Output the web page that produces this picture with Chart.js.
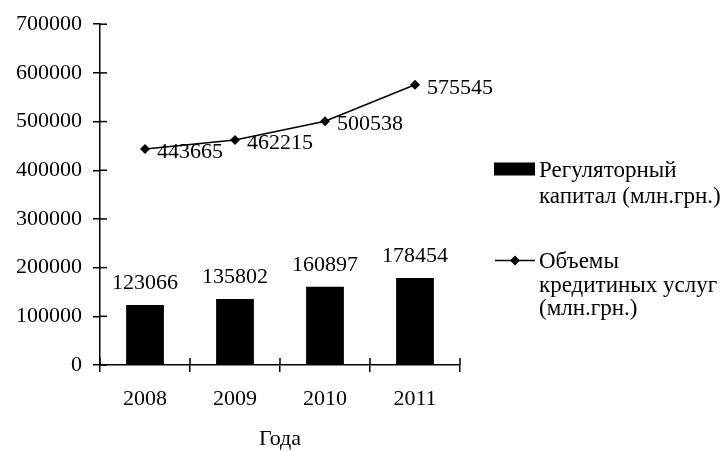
<!DOCTYPE html>
<html>
<head>
<meta charset="utf-8">
<script src="https://cdn.jsdelivr.net/npm/chart.js@4.4.1/dist/chart.umd.min.js"></script>
<style>
html,body{margin:0;padding:0;background:#fff;}
#wrap{width:723px;height:452px;position:relative;}
</style>
</head>
<body>
<div id="wrap"><canvas id="c" width="723" height="452"></canvas></div>
<script>
const years = ['2008', '2009', '2010', '2011'];
const capital = [123066, 135802, 160897, 178454];
const credit = [443665, 462215, 500538, 575545];
const capitalName = ['Регуляторный', 'капитал (млн.грн.)'];
const creditName = ['Объемы', 'кредитиных услуг', '(млн.грн.)'];
const xTitle = 'Года';
const yTicks = [0, 100000, 200000, 300000, 400000, 500000, 600000, 700000];

const FONT = '"Liberation Serif", "Times New Roman", serif';
const FS = 22;
const LFS = 23;

const crossTicks = {
  id: 'crossTicks',
  afterDraw(chart) {
    const ctx = chart.ctx;
    const ys = chart.scales.y, xs = chart.scales.x;
    ctx.save();
    ctx.strokeStyle = '#000';
    ctx.lineWidth = 1.5;
    ys.ticks.forEach((t, i) => {
      const py = ys.getPixelForTick(i);
      ctx.beginPath(); ctx.moveTo(ys.right, py); ctx.lineTo(ys.right + 7, py); ctx.stroke();
    });
    const n = xs.ticks.length;
    const step = n > 1 ? xs.getPixelForTick(1) - xs.getPixelForTick(0) : xs.width;
    for (let i = 0; i <= n; i++) {
      const px = xs.getPixelForTick(0) - step / 2 + i * step;
      ctx.beginPath(); ctx.moveTo(px, xs.top); ctx.lineTo(px, xs.top - 7); ctx.stroke();
    }
    ctx.restore();
  }
};

const valueLabels = {
  id: 'valueLabels',
  afterDatasetsDraw(chart) {
    const ctx = chart.ctx;
    ctx.save();
    ctx.fillStyle = '#000';
    ctx.font = FS + 'px ' + FONT;
    const barMeta = chart.getDatasetMeta(0);
    ctx.textAlign = 'center';
    ctx.textBaseline = 'alphabetic';
    barMeta.data.forEach((el, i) => {
      ctx.fillText(String(capital[i]), el.x, el.y - 16);
    });
    const lineMeta = chart.getDatasetMeta(1);
    ctx.textAlign = 'left';
    ctx.textBaseline = 'middle';
    lineMeta.data.forEach((el, i) => {
      ctx.fillText(String(credit[i]), el.x + 12, el.y + 3);
    });
    ctx.restore();
  }
};

const sideLegend = {
  id: 'sideLegend',
  afterDraw(chart) {
    const ctx = chart.ctx;
    const x0 = chart.chartArea.right + 34;
    ctx.save();
    ctx.fillStyle = '#000';
    ctx.strokeStyle = '#000';
    ctx.font = LFS + 'px ' + FONT;
    ctx.textAlign = 'left';
    ctx.textBaseline = 'alphabetic';
    // bar item
    const y1 = 169;
    ctx.fillRect(x0, y1 - 6.5, 41, 13);
    capitalName.forEach((s, i) => ctx.fillText(s, x0 + 45, 177 + i * 26));
    // line item
    const y2 = 260.5;
    ctx.lineWidth = 1.5;
    ctx.beginPath(); ctx.moveTo(x0 + 1, y2); ctx.lineTo(x0 + 41, y2); ctx.stroke();
    const cx = x0 + 21, r = 5;
    ctx.beginPath(); ctx.moveTo(cx, y2 - r); ctx.lineTo(cx + r, y2); ctx.lineTo(cx, y2 + r); ctx.lineTo(cx - r, y2); ctx.closePath(); ctx.fill();
    creditName.forEach((s, i) => ctx.fillText(s, x0 + 45, 268 + i * 23.5));
    ctx.restore();
  }
};

new Chart(document.getElementById('c'), {
  type: 'bar',
  data: {
    labels: years,
    datasets: [
      {
        type: 'bar',
        label: capitalName.join(' '),
        data: capital,
        backgroundColor: '#000',
        borderWidth: 0,
        barPercentage: 0.42,
        categoryPercentage: 1,
        order: 2
      },
      {
        type: 'line',
        label: creditName.join(' '),
        data: credit,
        borderColor: '#000',
        backgroundColor: '#000',
        borderWidth: 1.5,
        tension: 0,
        pointStyle: 'rectRot',
        pointRadius: 5,
        pointBorderWidth: 0,
        order: 1
      }
    ]
  },
  options: {
    responsive: false,
    animation: false,
    devicePixelRatio: 1,
    layout: { padding: { top: 20, right: 263, left: 0, bottom: 0 } },
    plugins: { legend: { display: false }, tooltip: { enabled: false } },
    scales: {
      x: {
        grid: { display: true, offset: true, drawOnChartArea: false, drawTicks: true, tickLength: 7, color: '#000', lineWidth: 1.5 },
        border: { display: true, color: '#000', width: 1.5 },
        ticks: { color: '#000', font: { family: FONT, size: FS }, padding: 14, maxRotation: 0 },
        title: { display: true, text: xTitle, color: '#000', font: { family: FONT, size: FS }, padding: { top: 0, bottom: 0 } },
        afterFit(s) { s.height = 87; }
      },
      y: {
        min: 0,
        max: 700000,
        afterBuildTicks(s) { s.ticks = yTicks.map(v => ({ value: v })); },
        grid: { display: true, drawOnChartArea: false, drawTicks: true, tickLength: 7, color: '#000', lineWidth: 1.5 },
        border: { display: true, color: '#000', width: 1.5 },
        ticks: { color: '#000', font: { family: FONT, size: FS }, padding: 11, callback: (v) => String(v) },
        afterFit(s) { s.width = 100; }
      }
    }
  },
  plugins: [crossTicks, valueLabels, sideLegend]
});
</script>
</body>
</html>
